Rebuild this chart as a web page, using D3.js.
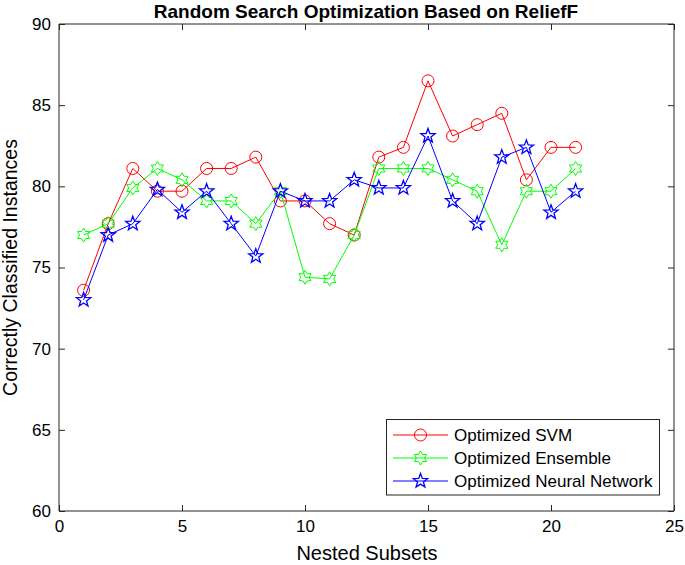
<!DOCTYPE html>
<html><head><meta charset="utf-8">
<script src="https://cdn.jsdelivr.net/npm/d3@7"></script>
<style>body{margin:0;background:#fff}svg{display:block}text{font-family:"Liberation Sans",Arial,Helvetica,sans-serif}</style>
</head><body>
<svg id="c" width="685" height="565"></svg>
<script>
const subsets = d3.range(1, 22);
const svm =      [73.6,77.7,81.1,79.7,79.7,81.1,81.1,81.8,79.1,79.1,77.7,77.0,81.8,82.4,86.5,83.1,83.8,84.5,80.4,82.4,82.4];
const ensemble = [77.0,77.7,79.9,81.1,80.4,79.1,79.1,77.7,79.7,74.4,74.3,77.0,81.1,81.1,81.1,80.4,79.7,76.4,79.7,79.7,81.1];
const neural =   [73.0,77.0,77.7,79.8,78.4,79.7,77.7,75.7,79.7,79.1,79.1,80.4,79.9,79.9,83.1,79.1,77.7,81.8,82.4,78.4,79.7];
const xTicks = [0,5,10,15,20,25];
const yTicks = [60,65,70,75,80,85,90];
const seriesNames = ["Optimized SVM","Optimized Ensemble","Optimized Neural Network"];
const seriesColors = ["#ff0000","#00ff00","#0000ff"];
const seriesData = [svm, ensemble, neural];
const seriesMarkers = ["circle","hexagram","pentagram"];

const svg = d3.select("#c");
const L=59, R=674, T=24, B=511;
const x = d3.scaleLinear().domain([0,25]).range([L,R]);
const y = d3.scaleLinear().domain([60,90]).range([B,T]);
const axCol = "#262626";

function starPath(n, ro, ri){
  const pts=[];
  for(let i=0;i<2*n;i++){
    const a = -Math.PI/2 + i*Math.PI/n;
    const r = i%2===0?ro:ri;
    pts.push([r*Math.cos(a), r*Math.sin(a)]);
  }
  return "M"+pts.map(p=>p[0].toFixed(2)+","+p[1].toFixed(2)).join("L")+"Z";
}
function drawMarker(g, type, cx, cy, col){
  if(type==="circle"){
    g.append("circle").attr("cx",cx).attr("cy",cy).attr("r",6).attr("fill","none").attr("stroke",col).attr("stroke-width",1);
  } else if(type==="hexagram"){
    g.append("path").attr("d",starPath(6,7,4.1)).attr("transform",`translate(${cx},${cy})`).attr("fill","none").attr("stroke",col).attr("stroke-width",1);
  } else {
    g.append("path").attr("d",starPath(5,7.5,3.1)).attr("transform",`translate(${cx},${cy})`).attr("fill","none").attr("stroke",col).attr("stroke-width",1.3);
  }
}

const axB = d3.axisBottom(x).tickValues(xTicks).tickSize(-6).tickPadding(9);
const axL = d3.axisLeft(y).tickValues(yTicks).tickSize(-6).tickPadding(8);
const axT = d3.axisTop(x).tickValues(xTicks).tickSize(-6).tickFormat("");
const axR = d3.axisRight(y).tickValues(yTicks).tickSize(-6).tickFormat("");
function style(g){
  g.selectAll("path,line").attr("stroke",axCol);
  g.selectAll("text").attr("fill","#000").style("font-size","17px").style("font-family",'"Liberation Sans",Arial,sans-serif');
}
svg.append("g").attr("transform",`translate(0,${B})`).call(axB).call(style).call(g=>g.select(".domain").attr("d",`M${L},0H${R}`));
svg.append("g").attr("transform",`translate(${L},0)`).call(axL).call(style).call(g=>g.select(".domain").attr("d",`M0,${T}V${B}`));
svg.append("g").attr("transform",`translate(0,${T})`).call(axT).call(style).call(g=>g.select(".domain").attr("d",`M${L},0H${R}`));
svg.append("g").attr("transform",`translate(${R},0)`).call(axR).call(style).call(g=>g.select(".domain").attr("d",`M0,${T}V${B}`));

const line = d3.line().x((d,i)=>x(subsets[i])).y(d=>y(d));
seriesData.forEach((data,k)=>{
  const g = svg.append("g");
  g.append("path").datum(data).attr("d",line).attr("fill","none").attr("stroke",seriesColors[k]).attr("stroke-width",1);
  data.forEach((v,i)=>drawMarker(g, seriesMarkers[k], x(subsets[i]), y(v), seriesColors[k]));
});

const lg = svg.append("g");
lg.append("rect").attr("x",386.5).attr("y",419.5).attr("width",273).attr("height",75.5).attr("fill","#fff").attr("stroke",axCol).attr("stroke-width",1);
seriesNames.forEach((nm,k)=>{
  const yy = 435 + k*23;
  lg.append("line").attr("x1",393).attr("x2",448).attr("y1",yy).attr("y2",yy).attr("stroke",seriesColors[k]).attr("stroke-width",1);
  drawMarker(lg, seriesMarkers[k], 420.5, yy, seriesColors[k]);
  lg.append("text").attr("x",454).attr("y",yy).attr("dy","0.36em").style("font-size","17px").attr("fill","#000").text(nm);
});

svg.append("text").attr("x",366).attr("y",18).attr("text-anchor","middle").style("font-size","19px").style("font-weight","bold").text("Random Search Optimization Based on ReliefF");
svg.append("text").attr("x",367).attr("y",560).attr("text-anchor","middle").style("font-size","20px").text("Nested Subsets");
svg.append("text").attr("transform",`translate(17,${(T+B)/2}) rotate(-90)`).attr("text-anchor","middle").style("font-size","19.5px").text("Correctly Classified Instances");
</script>
</body></html>
